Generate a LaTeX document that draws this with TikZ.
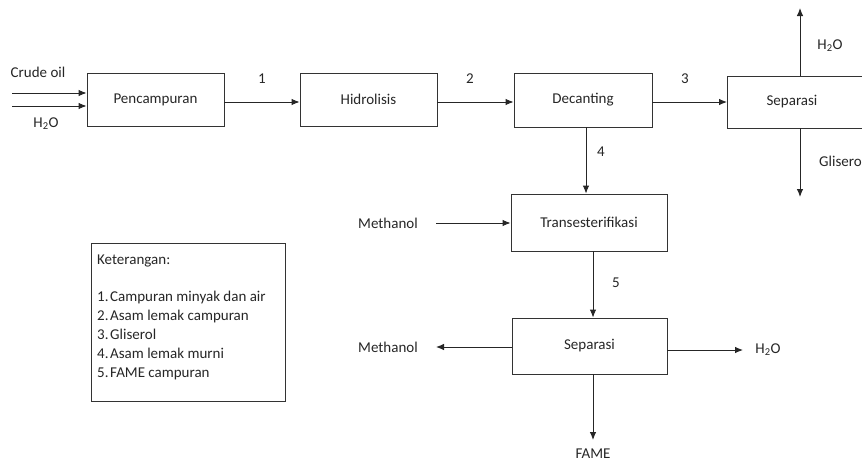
\documentclass[tikz,border=0pt]{standalone}
\usepackage{fontspec}
\setmainfont{Carlito}
\usetikzlibrary{arrows.meta}
\begin{document}
\begin{tikzpicture}[x=1pt,y=-1pt,
  font=\fontsize{15}{17}\selectfont,
  box/.style={draw=black!80,line width=0.9pt,inner sep=0pt,text=black!85},
  boxline/.style={draw=black!80,line width=0.9pt},
  arr/.style={-{Latex[length=8pt,width=6.5pt]},line width=0.9pt,draw=black!85},
  lbl/.style={inner sep=0pt,text=black!85}]
\useasboundingbox (0,0) rectangle (862,463);
% process boxes
\node[box,minimum width=137pt,minimum height=53pt] (pen) at (155.5,99.5) {Pencampuran};
\node[box,minimum width=137pt,minimum height=53pt] (hid) at (368.5,99.5) {Hidrolisis};
\node[box,minimum width=138pt,minimum height=54pt] (dec) at (583,100) {Decanting};
\node[box,minimum width=156pt,minimum height=57pt] (tra) at (589,222.5) {Transesterifikasi};
\node[box,minimum width=155pt,minimum height=56pt] (sep2) at (589.5,346) {Separasi};
\node[lbl] (sep1) at (792,102) {Separasi};
\draw[boxline] (862,76) -- (727,76) -- (727,128) -- (862,128);
% level coordinates
\coordinate (lv) at (0,102);
\coordinate (s1w) at (727,102);
\coordinate (s1t) at (800,76);
\coordinate (s1b) at (800,128);
\coordinate (s1up) at (800,8);
\coordinate (s1dn) at (800,197);
\coordinate (in1) at (12,93);
\coordinate (in2) at (12,106);
\coordinate (cx4) at (586,0);
\coordinate (cx5) at (593,0);
\coordinate (m1a) at (436,223);
\coordinate (m2a) at (436,347);
\coordinate (h2a) at (743,350);
\coordinate (fa) at (593,440);
% labels
\node[lbl] (crude) at (38,72) {Crude oil};
\node[lbl] (win) at (46,124) {H\textsubscript{2}O};
\node[lbl] (n1) at (262,79) {1};
\node[lbl] (n2) at (470,79) {2};
\node[lbl] (n3) at (685,79) {3};
\node[lbl] (n4) at (601,152) {4};
\node[lbl] (n5) at (616,283) {5};
\node[lbl] (wtop) at (830,46) {H\textsubscript{2}O};
\node[lbl,anchor=west] (gli) at (819,161) {Glisero};
\node[lbl] (m1) at (388,223) {Methanol};
\node[lbl] (m2) at (388,347) {Methanol};
\node[lbl] (wout) at (768,350) {H\textsubscript{2}O};
\node[lbl,anchor=south] (fame) at (593,459) {FAME};
% connectors
\draw[arr] (in1) -- (in1 -| pen.west);
\draw[arr] (in2) -- (in2 -| pen.west);
\draw[arr] (pen.east |- lv) -- (hid.west |- lv);
\draw[arr] (hid.east |- lv) -- (dec.west |- lv);
\draw[arr] (dec.east |- lv) -- (s1w);
\draw[arr] (s1t) -- (s1up);
\draw[arr] (s1b) -- (s1dn);
\draw[arr] (dec.south -| cx4) -- (tra.north -| cx4);
\draw[arr] (m1a) -- (m1a -| tra.west);
\draw[arr] (tra.south -| cx5) -- (sep2.north -| cx5);
\draw[arr] (m2a -| sep2.west) -- (m2a);
\draw[arr] (h2a -| sep2.east) -- (h2a);
\draw[arr] (sep2.south -| fa) -- (fa);
% legend
\node[boxline,draw,minimum width=194pt,minimum height=158pt,inner sep=0pt] (leg) at (188,322) {};
\node[lbl,anchor=north west,align=left,font=\fontsize{15}{19}\selectfont] (legtxt) at (97,255)
  {Keterangan:\\[18pt]
   \makebox[13pt][l]{1.}Campuran minyak dan air\\
   \makebox[13pt][l]{2.}Asam lemak campuran\\
   \makebox[13pt][l]{3.}Gliserol\\
   \makebox[13pt][l]{4.}Asam lemak murni\\
   \makebox[13pt][l]{5.}FAME campuran};
\end{tikzpicture}
\end{document}
